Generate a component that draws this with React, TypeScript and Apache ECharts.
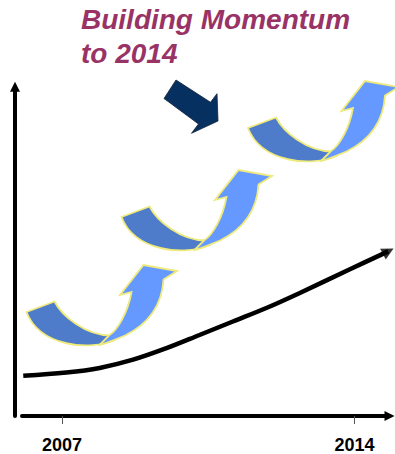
import React, { useEffect, useRef } from "react";
import * as echarts from "echarts";

// ---- data ----
const titleLines = ["Building Momentum", "to 2014"];
const tickYears = [2007, 2014];
const xRange = [2006.04, 2014.84];
const yRange = [0, 100];
const curveYears = [2006.07, 2007.1, 2007.9, 2008.7, 2009.5, 2010.29, 2011.09, 2011.89, 2012.68, 2013.88, 2014.81];
const curveValues = [12.2, 13.2, 14.6, 17.1, 20.6, 24.6, 28.7, 32.8, 37.3, 44.5, 50.0];

// ---- decorative shapes (U-turn ribbon arrow, drawn once, placed three times) ----
const ribbonBack = "M26.5 312 L54.5 301.5 C62 316 85 335 110 335.5 L115 340 C90 351 40 347 26.5 312 Z";
const ribbonFront = "M109 335.5 C118 330 128 312 131.5 292 L120 295 L143.5 265 L177 271 L163.5 279.5 C162 305 150 323 125 335.5 Q112 341 99 345.5 Z";
let registered = false;
function registerShapes() {
  if (registered) return;
  echarts.graphic.registerShape("ribbonBack", echarts.graphic.extendPath(ribbonBack, {}));
  echarts.graphic.registerShape("ribbonFront", echarts.graphic.extendPath(ribbonFront, {}));
  registered = true;
}

const ribbonOffsets = [
  [0, 0],
  [95, -95],
  [221.5, -184],
];

export default function App() {
  const ref = useRef<HTMLDivElement>(null);
  useEffect(() => {
    if (!ref.current) return;
    registerShapes();
    const chart = echarts.init(ref.current, null, { renderer: "svg" });
    const font = '"Liberation Sans", Arial, Helvetica, sans-serif';
    const ribbons: any[] = [];
    ribbonOffsets.forEach(([dx, dy]) => {
      ribbons.push({
        type: "ribbonBack",
        x: dx,
        y: dy,
        style: { fill: "#4F7BCB", stroke: "#EEEA7C", lineWidth: 1.8 },
      });
      ribbons.push({
        type: "ribbonFront",
        x: dx,
        y: dy,
        style: { fill: "#6699FF", stroke: "#EEEA7C", lineWidth: 1.8 },
      });
    });
    const last = curveYears.length - 1;
    chart.setOption({
      animation: false,
      grid: { left: 22, right: 5.5, top: 86.7, bottom: 37.7, containLabel: false },
      xAxis: {
        type: "value",
        min: xRange[0],
        max: xRange[1],
        splitLine: { show: false },
        axisLine: {
          show: true,
          onZero: false,
          symbol: ["none", "triangle"],
          symbolSize: [10, 10],
          lineStyle: { color: "#000", width: 4 },
        },
        axisTick: {
          show: true,
          customValues: tickYears,
          length: 8,
          lineStyle: { color: "#555", width: 1 },
        },
        axisLabel: {
          show: true,
          customValues: tickYears,
          margin: 20,
          color: "#000",
          fontSize: 18,
          fontWeight: "bold",
          fontFamily: font,
          formatter: (v: number) => String(Math.round(v)),
        },
      },
      yAxis: {
        type: "value",
        min: yRange[0],
        max: yRange[1],
        offset: 7,
        splitLine: { show: false },
        axisTick: { show: false },
        axisLabel: { show: false },
        axisLine: {
          show: true,
          onZero: false,
          symbol: ["none", "triangle"],
          symbolSize: [10, 10],
          lineStyle: { color: "#000", width: 4 },
        },
      },
      series: [
        {
          type: "line",
          smooth: 0.35,
          symbol: "none",
          lineStyle: { color: "#000", width: 4.5 },
          data: curveYears.map((x, i) => [x, curveValues[i]]),
          z: 3,
        },
        {
          type: "scatter",
          symbol: "triangle",
          symbolSize: [12, 12],
          symbolRotate: -62,
          itemStyle: { color: "#000" },
          data: [[curveYears[last], curveValues[last]]],
          z: 4,
        },
      ],
      graphic: [
        {
          type: "text",
          x: 81,
          y: 19.6,
          style: {
            text: titleLines[0],
            font: "italic bold 28px " + font,
            fill: "#993366",
            align: "left",
            verticalAlign: "middle",
          },
        },
        {
          type: "text",
          x: 81,
          y: 53.6,
          style: {
            text: titleLines[1],
            font: "italic bold 28px " + font,
            fill: "#993366",
            align: "left",
            verticalAlign: "middle",
          },
        },
        {
          type: "polygon",
          shape: {
            points: [
              [164, 98.5],
              [176, 80],
              [210.5, 102.3],
              [217, 93.7],
              [218, 121],
              [191.5, 133.3],
              [198.5, 124],
            ],
          },
          style: { fill: "#06305F", stroke: "#14213a", lineWidth: 0.8 },
        },
        ...ribbons,
      ],
    });
    return () => chart.dispose();
  }, []);
  return (
    <div
      ref={ref}
      style={{ position: "absolute", left: 0, top: 0, width: 395, height: 454 }}
    />
  );
}
